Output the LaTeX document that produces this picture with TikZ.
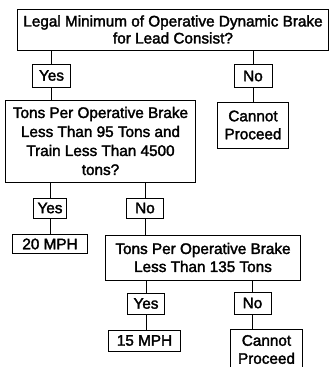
\documentclass[tikz,border=0pt]{standalone}
\usepackage{fontspec}
\newfontfamily\dfont{Liberation Sans}[FakeBold=2]
\begin{document}
\begin{tikzpicture}[x=1bp,y=-1bp,
  box/.style={draw, line width=1bp, inner sep=0pt, align=center,
    font=\dfont\fontsize{15.3bp}{18bp}\selectfont},
  link/.style={line width=1bp}]
\useasboundingbox (0,0) rectangle (330,367);
\clip (0,0) rectangle (330,367);
\node[box, minimum width=310bp, minimum height=41bp, font=\dfont\fontsize{15.3bp}{17bp}\selectfont] (top) at (173,29.5) {Legal Minimum of Operative Dynamic Brake\\for Lead Consist?};
\node[box, minimum width=37bp, minimum height=23bp] (yes1) at (51.5,75.5) {Yes};
\node[box, minimum width=38bp, minimum height=23bp] (no1) at (253,76) {No};
\node[box, minimum width=189bp, minimum height=82bp, font=\dfont\fontsize{15.3bp}{19bp}\selectfont] (big) at (100.5,141) {Tons Per Operative Brake\\Less Than 95 Tons and\\Train Less Than 4500\\tons?};
\node[box, minimum width=70bp, minimum height=46bp] (can1) at (253,125) {Cannot\\Proceed};
\node[box, minimum width=33bp, minimum height=20bp] (yes2) at (50,208) {Yes};
\node[box, minimum width=37bp, minimum height=20bp] (no2) at (145,208) {No};
\node[box, minimum width=74bp, minimum height=19bp] (mph20) at (50,244) {20 MPH};
\node[box, minimum width=194bp, minimum height=45bp] (tons2) at (203,257.5) {Tons Per Operative Brake\\Less Than 135 Tons};
\node[box, minimum width=36bp, minimum height=21bp] (yes3) at (146,303.5) {Yes};
\node[box, minimum width=37bp, minimum height=22bp] (no3) at (252.5,303) {No};
\node[box, minimum width=71bp, minimum height=21bp] (mph15) at (144.5,340.5) {15 MPH};
\node[box, minimum width=71bp, minimum height=41bp] (can2) at (266.5,349.5) {Cannot\\Proceed};
\draw[link] (yes1.north) -- (yes1.north |- top.south);
\draw[link] (yes1.south) -- (yes1.south |- big.north);
\draw[link] (no1.north) -- (no1.north |- top.south);
\draw[link] (no1.south) -- (no1.south |- can1.north);
\draw[link] (yes2.north) -- (yes2.north |- big.south);
\draw[link] (no2.north) -- (no2.north |- big.south);
\draw[link] (yes2.south) -- (yes2.south |- mph20.north);
\draw[link] (no2.south) -- (no2.south |- tons2.north);
\draw[link] (yes3.north) -- (yes3.north |- tons2.south);
\draw[link] (no3.north) -- (no3.north |- tons2.south);
\draw[link] (yes3.south) -- (yes3.south |- mph15.north);
\draw[link] (no3.south) -- (no3.south |- can2.north);
\end{tikzpicture}
\end{document}
